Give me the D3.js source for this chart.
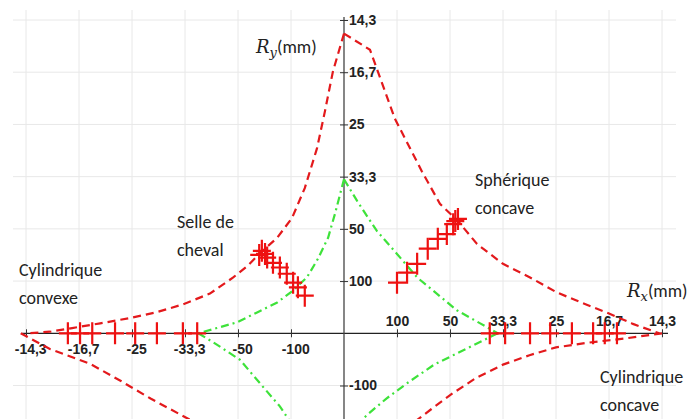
<!DOCTYPE html>
<html>
<head>
<meta charset="utf-8">
<script src="https://cdn.jsdelivr.net/npm/d3@7"></script>
<style>
  body { margin: 0; background: #fff; }
  .tick text { font-family: "Liberation Sans Narrow", "Liberation Sans", Arial, sans-serif; font-size: 14px; font-weight: bold; fill: #222; }
  .lbl { font-family: Carlito, "Liberation Sans", Arial, sans-serif; font-size: 18px; fill: #222; }
</style>
</head>
<body>
<div id="chart"></div>
<script>
// axis positions are tick slots, labels are radii in mm
var xTickVals = [-6, -5, -4, -3, -2, -1, 1, 2, 3, 4, 5, 6];
var xTickLabels = ["-14,3", "-16,7", "-25", "-33,3", "-50", "-100", "100", "50", "33,3", "25", "16,7", "14,3"];
var yTickVals = [6, 5, 4, 3, 2, 1, -1];
var yTickLabels = ["14,3", "16,7", "25", "33,3", "50", "100", "-100"];

// red dashed limit curve
var redUpperRight = [[0, 5.74], [0.49, 5.43], [0.96, 4.11], [1.47, 3.10], [1.81, 2.48], [2.15, 2.15], [2.51, 1.71], [3.0, 1.33], [3.51, 1.07], [4.02, 0.78], [4.5, 0.58], [5.0, 0.38], [5.45, 0.18], [5.95, 0]];
var redUpperLeft = [[0, 5.74], [-0.21, 5.01], [-0.36, 4.25], [-0.51, 3.54], [-0.74, 2.78], [-0.98, 2.21], [-1.26, 1.83], [-1.6, 1.52], [-1.81, 1.30], [-2.09, 1.07], [-2.53, 0.76], [-3.05, 0.55], [-3.55, 0.40], [-4.05, 0.29], [-4.6, 0.19], [-5.13, 0.1], [-5.55, 0.03], [-5.95, 0]];
var redLowerLeft = [[-6.1, 0], [-5.55, -0.3], [-4.8, -0.58], [-4.2, -0.92], [-3.65, -1.25], [-3.1, -1.55], [-2.65, -1.8]];
var redLowerRight = [[6.0, 0], [5.3, -0.1], [4.6, -0.18], [4.0, -0.27], [3.5, -0.42], [3.0, -0.6], [2.5, -0.85], [2.05, -1.15], [1.65, -1.45], [1.2, -1.8]];

// green dash-dot curve
var greenUpperLeft = [[0, 2.95], [-0.17, 2.29], [-0.30, 1.83], [-0.49, 1.43], [-0.70, 1.07], [-0.96, 0.82], [-1.26, 0.59], [-1.64, 0.40], [-2.02, 0.21], [-2.40, 0.10], [-2.75, 0]];
var greenUpperRight = [[0, 2.95], [0.25, 2.53], [0.62, 1.96], [1.0, 1.52], [1.38, 1.07], [1.75, 0.76], [2.13, 0.44], [2.57, 0.19], [2.9, 0]];
var greenLowerLeft = [[-2.75, 0], [-2.47, -0.17], [-1.96, -0.51], [-1.55, -1.0], [-1.21, -1.4], [-0.98, -1.75]];
var greenLowerRight = [[2.9, 0], [2.32, -0.29], [1.7, -0.6], [1.2, -0.95], [0.8, -1.25], [0.45, -1.55], [0.25, -1.75]];

// measured points
var marksAxisX = [-5.21, -4.98, -4.75, -4.32, -3.94, -3.53, -3.04, -2.77, 2.75, 3.04, 3.51, 3.89, 4.30, 4.70, 4.92, 5.15];
var marksSaddle = [[-1.6, 1.5], [-1.55, 1.58], [-1.49, 1.52], [-1.45, 1.45], [-1.34, 1.35], [-1.21, 1.26], [-1.08, 1.14], [-0.96, 0.97], [-0.87, 0.88], [-0.74, 0.72]];
var marksSphere = [[1.0, 0.97], [1.19, 1.16], [1.38, 1.33], [1.58, 1.62], [1.77, 1.81], [1.94, 1.90], [2.06, 2.09], [2.1, 2.15], [2.15, 2.19]];

var width = 691, height = 419;

var svg = d3.select("#chart")
    .append("svg")
    .attr("width", width)
    .attr("height", height);

var x = d3.scaleLinear().domain([-6, 6]).range([26, 662]);
var y = d3.scaleLinear().domain([-1, 6]).range([385.5, 20]);

// grid
var gridX = [-6, -5, -4, -3, -2, -1, 1, 2, 3, 4, 5, 6];
var gridY = [6, 5, 4, 3, 2, 1, -1];
svg.append("g").selectAll("line")
    .data(gridX)
    .enter().append("line")
    .attr("x1", function (d) { return x(d); })
    .attr("x2", function (d) { return x(d); })
    .attr("y1", 10)
    .attr("y2", height)
    .style("stroke", "#e8e8e8");
svg.append("g").selectAll("line")
    .data(gridY)
    .enter().append("line")
    .attr("x1", 13)
    .attr("x2", 676)
    .attr("y1", function (d) { return y(d); })
    .attr("y2", function (d) { return y(d); })
    .style("stroke", "#e8e8e8");

// X axis through origin
var xAxis = svg.append("g")
    .attr("transform", "translate(0," + y(0) + ")")
    .call(d3.axisBottom(x)
        .tickValues(xTickVals)
        .tickSize(4)
        .tickFormat(function (d, i) { return xTickLabels[i]; }));
xAxis.select(".domain").attr("d", "M" + 22 + ",0H" + 668).style("stroke", "#222").style("stroke-width", 1.3);
xAxis.selectAll(".tick line").attr("y1", -4).attr("y2", 4).style("stroke", "#333");
xAxis.selectAll(".tick text")
    .attr("y", function (d) { return d > 0 ? -17 : 11; })
    .attr("dy", "0.71em")
    .attr("dx", function (d) { return d < 0 ? "0.3em" : 0; });
xAxis.attr("font-family", null).attr("font-size", null);

// Y axis through origin
var yAxis = svg.append("g")
    .attr("transform", "translate(" + x(0) + ",0)")
    .call(d3.axisRight(y)
        .tickValues(yTickVals)
        .tickSize(4)
        .tickFormat(function (d, i) { return yTickLabels[i]; }));
yAxis.select(".domain").attr("d", "M0,17V" + height).style("stroke", "#444").style("stroke-width", 1.3);
yAxis.selectAll(".tick line").attr("x1", -4).attr("x2", 4).style("stroke", "#333");
yAxis.selectAll(".tick text").attr("x", 5);
yAxis.attr("font-family", null).attr("font-size", null);

var line = d3.line()
    .x(function (d) { return x(d[0]); })
    .y(function (d) { return y(d[1]); });

var reds = [redUpperRight, redUpperLeft, redLowerLeft, redLowerRight];
var greens = [greenUpperLeft, greenUpperRight, greenLowerLeft, greenLowerRight];

svg.append("g").selectAll("path")
    .data(greens)
    .enter().append("path")
    .attr("d", line)
    .style("fill", "none")
    .style("stroke", "#3ee23a")
    .style("stroke-width", 2.2)
    .style("stroke-dasharray", "8,4,2,4");

svg.append("g").selectAll("path")
    .data(reds)
    .enter().append("path")
    .attr("d", line)
    .style("fill", "none")
    .style("stroke", "#e3191c")
    .style("stroke-width", 2.2)
    .style("stroke-dasharray", "8,5");

// plus markers
var allMarks = marksAxisX.map(function (u) { return [u, 0]; })
    .concat(marksSaddle)
    .concat(marksSphere);
svg.append("g").selectAll("path")
    .data(allMarks)
    .enter().append("path")
    .attr("transform", function (d) { return "translate(" + x(d[0]) + "," + y(d[1]) + ")"; })
    .attr("d", "M-9,0H9M0,-11V11")
    .style("stroke", "#ee1111")
    .style("stroke-width", 2.2);

// labels
var labels = [
    { t: "Cylindrique", x: 19, y: 276 },
    { t: "convexe", x: 19, y: 304 },
    { t: "Selle de", x: 177, y: 228 },
    { t: "cheval", x: 177, y: 256 },
    { t: "Sphérique", x: 475, y: 186 },
    { t: "concave", x: 475, y: 214 },
    { t: "Cylindrique", x: 600, y: 383 },
    { t: "concave", x: 600, y: 411 }
];
svg.append("g").selectAll("text")
    .data(labels)
    .enter().append("text")
    .attr("class", "lbl")
    .attr("x", function (d) { return d.x; })
    .attr("y", function (d) { return d.y; })
    .text(function (d) { return d.t; });

// axis titles
function axisTitle(px, py, sub) {
    var t = svg.append("text").attr("x", px).attr("y", py).attr("class", "lbl");
    t.append("tspan").style("font-family", "'DejaVu Serif', 'Liberation Serif', serif").style("font-style", "italic").style("font-size", "18px").text("R");
    t.append("tspan").style("font-family", "'DejaVu Serif', 'Liberation Serif', serif").style("font-style", "italic").style("font-size", "13px").attr("dy", 4).text(sub);
    t.append("tspan").attr("dy", -4).text("(mm)");
}
axisTitle(256, 53, "y");
axisTitle(627, 297, "x");
</script>
</body>
</html>
